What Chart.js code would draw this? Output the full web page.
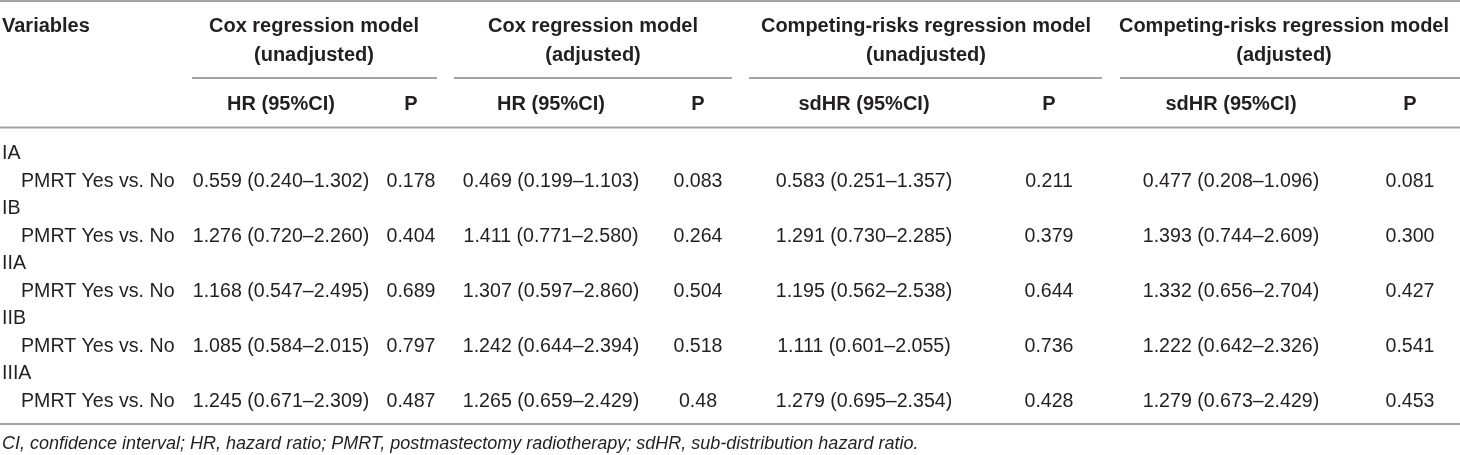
<!DOCTYPE html>
<html>
<head>
<meta charset="utf-8">
<script src="https://cdn.jsdelivr.net/npm/chart.js@4.4.1/dist/chart.umd.min.js"></script>
<style>
  html, body { margin: 0; padding: 0; background: #fff; }
  #wrap { width: 1460px; height: 455px; }
</style>
</head>
<body>
<div id="wrap"><canvas id="tableChart" width="1460" height="455"></canvas></div>
<script>
// table content
const stages = ["IA", "IB", "IIA", "IIB", "IIIA"];
const comparison = "PMRT Yes vs. No";
const groupTitles = [
    ["Cox regression model", "(unadjusted)"],
    ["Cox regression model", "(adjusted)"],
    ["Competing-risks regression model", "(unadjusted)"],
    ["Competing-risks regression model", "(adjusted)"],
];
const subHeaders = ["HR (95%CI)", "P", "HR (95%CI)", "P", "sdHR (95%CI)", "P", "sdHR (95%CI)", "P"];

const coxUnadjHR = ["0.559 (0.240–1.302)", "1.276 (0.720–2.260)", "1.168 (0.547–2.495)", "1.085 (0.584–2.015)", "1.245 (0.671–2.309)"];
const coxUnadjP = ["0.178", "0.404", "0.689", "0.797", "0.487"];
const coxAdjHR = ["0.469 (0.199–1.103)", "1.411 (0.771–2.580)", "1.307 (0.597–2.860)", "1.242 (0.644–2.394)", "1.265 (0.659–2.429)"];
const coxAdjP = ["0.083", "0.264", "0.504", "0.518", "0.48"];
const crUnadjHR = ["0.583 (0.251–1.357)", "1.291 (0.730–2.285)", "1.195 (0.562–2.538)", "1.111 (0.601–2.055)", "1.279 (0.695–2.354)"];
const crUnadjP = ["0.211", "0.379", "0.644", "0.736", "0.428"];
const crAdjHR = ["0.477 (0.208–1.096)", "1.393 (0.744–2.609)", "1.332 (0.656–2.704)", "1.222 (0.642–2.326)", "1.279 (0.673–2.429)"];
const crAdjP = ["0.081", "0.300", "0.427", "0.541", "0.453"];

const footnote = "CI, confidence interval; HR, hazard ratio; PMRT, postmastectomy radiotherapy; sdHR, sub-distribution hazard ratio.";

// layout (in scale units, 1 unit = 1 px)
const colCenters = [281, 411, 551, 698, 864, 1049, 1231, 1410];
const groupCenters = [314, 593, 926, 1284];
const groupRules = [[192, 437], [454, 732], [749, 1102], [1120, 1460]];
const firstRowY = 154;
const rowStep = 27.5;

const FONT = '"Liberation Sans", Arial, Helvetica, sans-serif';
const INK = "#231f20";
const RULE = "#a3a3a3";

const valueCols = [coxUnadjHR, coxUnadjP, coxAdjHR, coxAdjP, crUnadjHR, crUnadjP, crAdjHR, crAdjP];

const tablePlugin = {
    id: "tablePlugin",
    afterDatasetsDraw(chart) {
        const ctx = chart.ctx;
        const xs = chart.scales.x;
        const ys = chart.scales.y;
        const px = (v) => xs.getPixelForValue(v);
        const py = (v) => ys.getPixelForValue(v);

        ctx.save();
        // rules
        ctx.strokeStyle = RULE;
        ctx.lineWidth = 1.8;
        const hline = (x0, x1, y) => {
            ctx.beginPath();
            ctx.moveTo(px(x0), py(y));
            ctx.lineTo(px(x1), py(y));
            ctx.stroke();
        };
        hline(0, 1460, 1);
        groupRules.forEach((r) => hline(r[0], r[1], 78));
        hline(0, 1460, 127.5);
        hline(0, 1460, 424);

        // header
        ctx.fillStyle = INK;
        ctx.textBaseline = "middle";
        ctx.font = "bold 20px " + FONT;
        ctx.textAlign = "left";
        ctx.fillText("Variables", px(2), py(26));
        ctx.textAlign = "center";
        groupTitles.forEach((g, i) => {
            ctx.fillText(g[0], px(groupCenters[i]), py(26));
            ctx.fillText(g[1], px(groupCenters[i]), py(55));
        });
        subHeaders.forEach((s, i) => ctx.fillText(s, px(colCenters[i]), py(104)));

        // body
        ctx.font = "19.6px " + FONT;
        stages.forEach((st, i) => {
            const yStage = firstRowY + rowStep * (2 * i);
            const yRow = yStage + rowStep;
            ctx.textAlign = "left";
            ctx.fillText(st, px(2), py(yStage));
            ctx.fillText(comparison, px(21), py(yRow));
            ctx.textAlign = "center";
            valueCols.forEach((col, c) => ctx.fillText(col[i], px(colCenters[c]), py(yRow)));
        });

        // footnote
        ctx.font = "italic 18px " + FONT;
        ctx.textAlign = "left";
        ctx.fillText(footnote, px(2), py(444));
        ctx.restore();
    },
};

new Chart(document.getElementById("tableChart").getContext("2d"), {
    type: "scatter",
    data: { datasets: [{ data: [], pointRadius: 0 }] },
    options: {
        responsive: false,
        animation: false,
        layout: { padding: 0 },
        plugins: { legend: { display: false }, tooltip: { enabled: false } },
        scales: {
            x: { type: "linear", min: 0, max: 1460, display: false },
            y: { type: "linear", min: 0, max: 455, reverse: true, display: false },
        },
    },
    plugins: [tablePlugin],
});
</script>
</body>
</html>
